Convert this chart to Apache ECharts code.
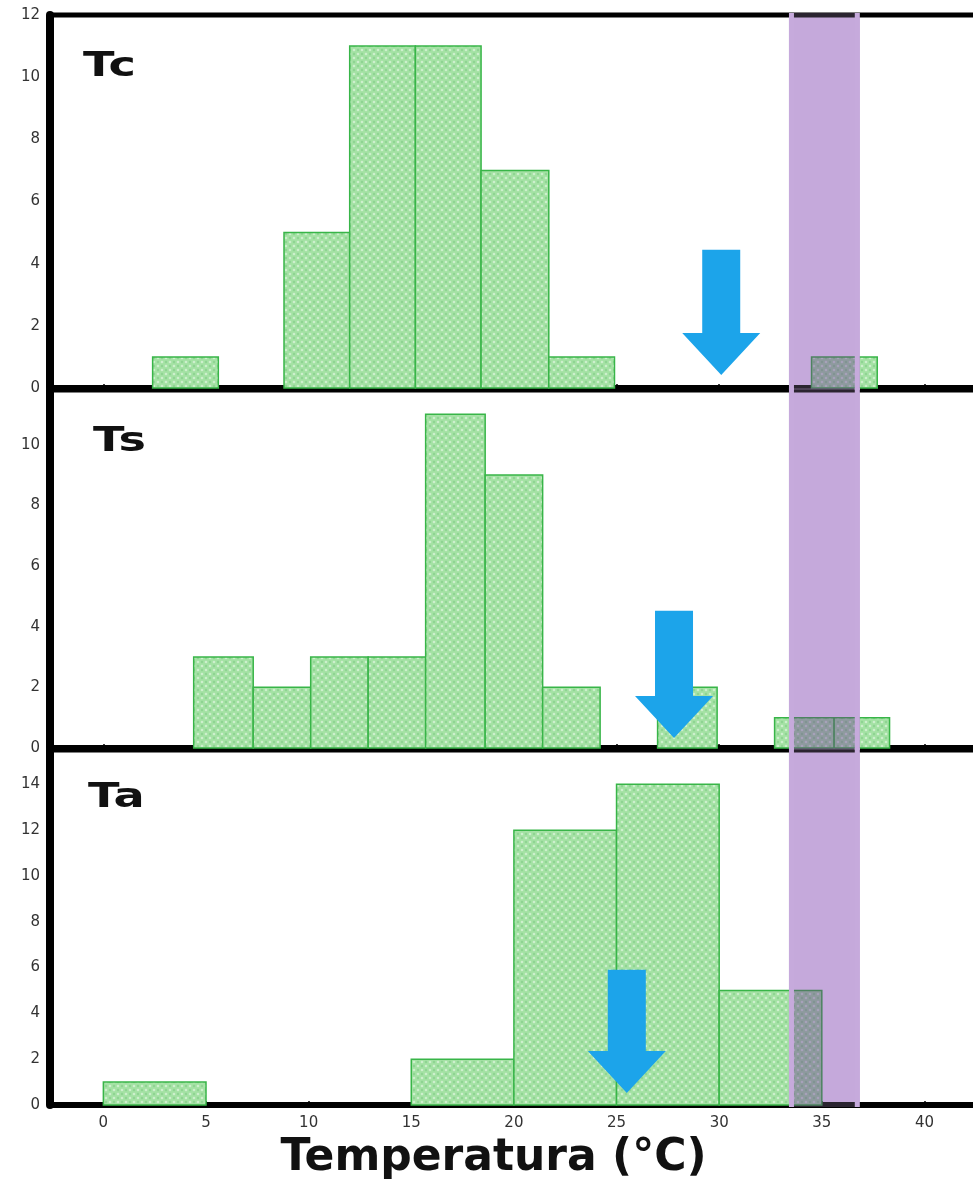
<!DOCTYPE html>
<html>
<head>
<meta charset="utf-8">
<script src="https://cdn.jsdelivr.net/npm/echarts@6/dist/echarts.min.js"></script>
<style>
  html, body { margin: 0; padding: 0; background: #fff; }
  #chart { width: 973px; height: 1180px; }
</style>
</head>
<body>
<div id="chart"></div>
<script>
// Histogram bins [start, end] (°C) and counts for each temperature
const tcBins = [[2.4, 5.6], [8.8, 12.0], [12.0, 15.2], [15.2, 18.4], [18.4, 21.7], [21.7, 24.9], [34.5, 37.7]];
const tcCounts = [1, 5, 11, 11, 7, 1, 1];
const tsBins = [[4.4, 7.3], [7.3, 10.1], [10.1, 12.9], [12.9, 15.7], [15.7, 18.6], [18.6, 21.4], [21.4, 24.2], [27.0, 29.9], [32.7, 35.6], [35.6, 38.3]];
const tsCounts = [3, 2, 3, 3, 11, 9, 2, 2, 1, 1];
const taBins = [[0, 5], [15, 20], [20, 25], [25, 30], [30, 35]];
const taCounts = [1, 2, 12, 14, 5];

// Arrows: [temperature, tip count, tail count]
const tcArrow = [30.1, 0.42, 4.45];
const tsArrow = [27.8, 0.33, 4.52];
const taArrow = [25.5, 0.52, 5.9];

// Shaded temperature range
const band = [33.4, 36.85];

const panelNames = ['Tc', 'Ts', 'Ta'];
const xTicks = [0, 5, 10, 15, 20, 25, 30, 35, 40];
const yTicksTc = [0, 2, 4, 6, 8, 10, 12];
const yTicksTs = [0, 2, 4, 6, 8, 10];
const yTicksTa = [0, 2, 4, 6, 8, 10, 12, 14];
const xName = 'Temperatura (°C)';

// ---- layout / style ----
const panels = [
  { bins: tcBins, counts: tcCounts, arrow: tcArrow, yTicks: yTicksTc, yMax: 12,   top: 15,  height: 373, label: [83, 51] },
  { bins: tsBins, counts: tsCounts, arrow: tsArrow, yTicks: yTicksTs, yMax: 11.8, top: 390, height: 358, label: [93, 426] },
  { bins: taBins, counts: taCounts, arrow: taArrow, yTicks: yTicksTa, yMax: 15.5, top: 750, height: 355, label: [88, 782] }
];
const X_MIN = -2.6, X_MAX = 42.95;
const BAR_STROKE = '#38b548';
const BAND_COLOR = '#c6aadc';
const ARROW_COLOR = '#1ca4ea';

// dotted light-green fill for the bars
function makePattern() {
  const c = document.createElement('canvas');
  c.width = 8; c.height = 8;
  const g = c.getContext('2d');
  g.fillStyle = '#a4e2a4';
  g.fillRect(0, 0, 8, 8);
  g.fillStyle = 'rgba(255,255,255,0.45)';
  [[2, 2], [6, 6]].forEach(p => { g.beginPath(); g.arc(p[0], p[1], 1.3, 0, Math.PI * 2); g.fill(); });
  g.fillStyle = 'rgba(70,160,80,0.22)';
  [[6, 2], [2, 6]].forEach(p => { g.beginPath(); g.arc(p[0], p[1], 1.2, 0, Math.PI * 2); g.fill(); });
  return c;
}
const barPattern = { image: makePattern(), repeat: 'repeat' };

function renderBar(params, api) {
  const p0 = api.coord([api.value(0), api.value(2)]);
  const p1 = api.coord([api.value(1), 0]);
  return {
    type: 'rect',
    shape: { x: p0[0], y: p0[1], width: p1[0] - p0[0], height: p1[1] - p0[1] },
    style: { fill: barPattern, stroke: BAR_STROKE, lineWidth: 1.5 }
  };
}

// band body (drawn with multiply blending so bars show through)
function renderBand(params, api) {
  const cs = params.coordSys;
  const xa = api.coord([api.value(0), 0])[0];
  const xb = api.coord([api.value(1), 0])[0];
  return {
    type: 'rect',
    shape: { x: xa, y: cs.y - 2, width: xb - xa, height: cs.height + 4 },
    style: { fill: BAND_COLOR }
  };
}

// light tint and solid edges of the band
function renderBandEdges(params, api) {
  const cs = params.coordSys;
  const xa = api.coord([api.value(0), 0])[0];
  const xb = api.coord([api.value(1), 0])[0];
  const y = cs.y - 2, h = cs.height + 4, edge = 5;
  return {
    type: 'group',
    children: [
      { type: 'rect', shape: { x: xa, y: y, width: xb - xa, height: h }, style: { fill: BAND_COLOR, opacity: 0.22 } },
      { type: 'rect', shape: { x: xa, y: y, width: edge, height: h }, style: { fill: BAND_COLOR } },
      { type: 'rect', shape: { x: xb - edge, y: y, width: edge, height: h }, style: { fill: BAND_COLOR } }
    ]
  };
}

function renderArrow(params, api) {
  const tip = api.coord([api.value(0), api.value(1)]);
  const tail = api.coord([api.value(0), api.value(2)]);
  const cx = tip[0], shaft = 19, head = 39, headH = 42;
  const neck = tip[1] - headH;
  return {
    type: 'polygon',
    shape: {
      points: [
        [cx - shaft, tail[1]], [cx + shaft, tail[1]], [cx + shaft, neck], [cx + head, neck],
        [cx, tip[1]], [cx - head, neck], [cx - shaft, neck]
      ]
    },
    style: { fill: ARROW_COLOR }
  };
}

const grids = [], xAxes = [], yAxes = [], series = [], graphics = [];
panels.forEach((p, i) => {
  const last = i === panels.length - 1;
  grids.push({
    left: 50, width: 935, top: p.top, height: p.height,
    outerBoundsMode: 'none', containLabel: false,
    show: true, borderColor: '#000', borderWidth: 5, backgroundColor: 'transparent'
  });
  xAxes.push({
    gridIndex: i, type: 'value', min: X_MIN, max: X_MAX,
    axisLine: { show: true, onZero: false, lineStyle: { color: '#000', width: 6 } },
    axisTick: { show: true, inside: true, length: 4, customValues: xTicks, lineStyle: { color: '#000', width: 1.5 } },
    axisLabel: { show: last, customValues: xTicks, margin: 11, fontFamily: 'DejaVu Sans', fontSize: 15, color: '#333' },
    splitLine: { show: false },
    name: last ? xName : '',
    nameLocation: 'middle', nameGap: 32,
    nameTextStyle: { fontFamily: 'DejaVu Sans', fontWeight: 'bold', fontSize: 44, color: '#111', padding: [0, 48, 0, 0] }
  });
  yAxes.push({
    gridIndex: i, type: 'value', min: 0, max: p.yMax,
    axisLine: { show: true, onZero: false, lineStyle: { color: '#000', width: 8 } },
    axisTick: { show: true, inside: true, length: 4, customValues: p.yTicks, lineStyle: { color: '#000', width: 1.5 } },
    axisLabel: { customValues: p.yTicks, margin: 10, fontFamily: 'DejaVu Sans', fontSize: 15, color: '#333' },
    splitLine: { show: false }
  });
  series.push({
    type: 'custom', name: panelNames[i] + ' bins', xAxisIndex: i, yAxisIndex: i, z: 2,
    renderItem: renderBar, encode: { x: [0, 1], y: 2 },
    data: p.bins.map((b, k) => [b[0], b[1], p.counts[k]])
  });
  series.push({
    type: 'custom', name: panelNames[i] + ' arrow', xAxisIndex: i, yAxisIndex: i, z: 4,
    renderItem: renderArrow, encode: { x: 0, y: [1, 2] },
    data: [p.arrow]
  });
  series.push({
    type: 'custom', name: 'range ' + i, xAxisIndex: i, yAxisIndex: i, z: 6,
    blendMode: 'multiply',
    renderItem: renderBand, encode: { x: [0, 1] },
    data: [band]
  });
  series.push({
    type: 'custom', name: 'range edge ' + i, xAxisIndex: i, yAxisIndex: i, z: 7,
    renderItem: renderBandEdges, encode: { x: [0, 1] },
    data: [band]
  });
  graphics.push({
    type: 'text', x: p.label[0], y: p.label[1], scaleX: 1.4, z: 10,
    style: { text: panelNames[i], font: 'bold 33px "DejaVu Sans"', fill: '#111', align: 'left', verticalAlign: 'top' }
  });
});

const chart = echarts.init(document.getElementById('chart'), null, { renderer: 'canvas' });
chart.setOption({
  animation: false,
  backgroundColor: '#fff',
  grid: grids,
  xAxis: xAxes,
  yAxis: yAxes,
  series: series,
  graphic: graphics
});
</script>
</body>
</html>
